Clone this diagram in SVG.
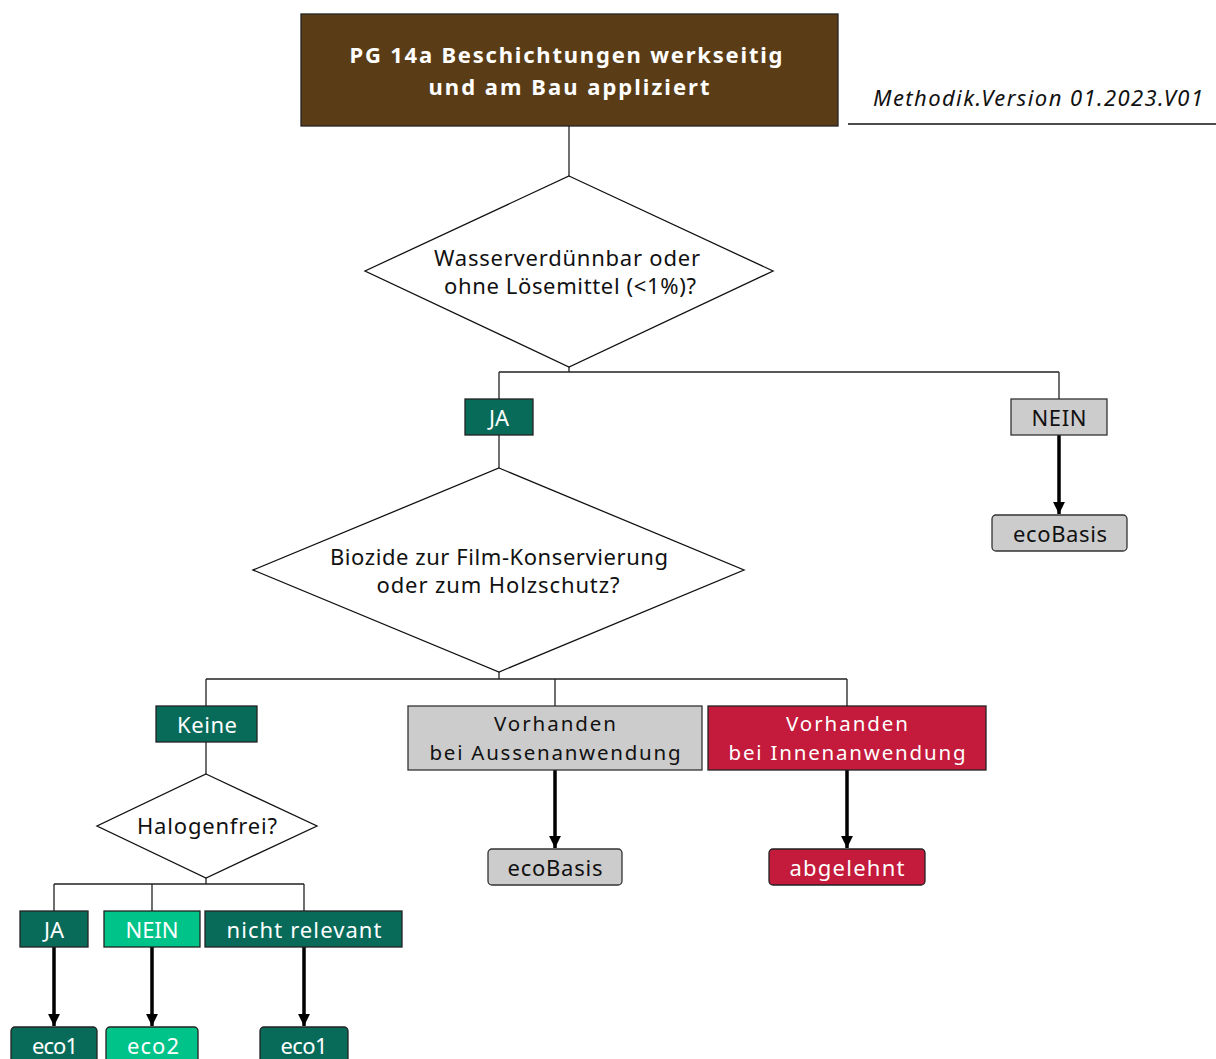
<svg xmlns="http://www.w3.org/2000/svg" width="1216" height="1059" viewBox="0 0 1216 1059">
<style>
text{font-family:"Noto Sans","Liberation Sans",sans-serif;font-size:22px;text-anchor:middle;dominant-baseline:central}
.w{fill:#fff}.k{fill:#111}
.ln{stroke:#222;stroke-width:1.3;fill:none}
.ar{stroke:#000;stroke-width:3.5;fill:none;marker-end:url(#ah)}
.dia{fill:#fff;stroke:#111;stroke-width:1.3}
.teal{fill:#086b5a;stroke:#222;stroke-width:1.3}
.lg{fill:#00c389;stroke:#222;stroke-width:1.3}
.gr{fill:#cccccc;stroke:#333;stroke-width:1.3}
.rd{fill:#c41a3b;stroke:#222;stroke-width:1.3}
.two{font-size:20.5px}
</style>
<defs>
<marker id="ah" viewBox="0 0 10 10" refX="10" refY="5" markerWidth="3.4" markerHeight="3.4" orient="auto" markerUnits="strokeWidth">
<path d="M0,0 L10,5 L0,10 z" fill="#000"/>
</marker>
</defs>
<rect width="1216" height="1059" fill="#fff"/>

<g id="connectors">
<path class="ln" d="M569,126 V176"/>
<path class="ln" d="M569,367 V372 M499,372 H1059 M499,372 V399 M1059,372 V399"/>
<path class="ln" d="M499,435 V468"/>
<path class="ln" d="M499,672 V679 M206,679 H847 M206,679 V706 M555,679 V706 M847,679 V706"/>
<path class="ln" d="M206,742 V774"/>
<path class="ln" d="M206,878 V884 M54,884 H304 M54,884 V911 M152,884 V911 M304,884 V911"/>
<path class="ar" d="M1059,435 V514"/>
<path class="ar" d="M555,770 V848"/>
<path class="ar" d="M847,770 V848"/>
<path class="ar" d="M54,947 V1026"/>
<path class="ar" d="M152,947 V1026"/>
<path class="ar" d="M304,947 V1026"/>
</g>

<g id="title">
<rect x="301" y="14" width="537" height="112" fill="#5a3d17" stroke="#222" stroke-width="1.3"/>
<text x="566" y="54" class="w" font-weight="bold" font-size="28" textLength="433" lengthAdjust="spacing">PG 14a Beschichtungen werkseitig</text>
<text x="569" y="86" class="w" font-weight="bold" font-size="28" textLength="281" lengthAdjust="spacing">und am Bau appliziert</text>
</g>

<g id="version">
<text x="1038" y="97" class="k" font-style="italic" font-size="24" textLength="330" lengthAdjust="spacing">Methodik.Version 01.2023.V01</text>
<path d="M848,124 H1216" stroke="#111" stroke-width="1.5"/>
</g>

<g id="q1">
<polygon class="dia" points="569,176 773,271 569,367 365,271"/>
<text x="567" y="257" class="k" textLength="266" lengthAdjust="spacing">Wasserverdünnbar oder</text>
<text x="570" y="285" class="k" textLength="252" lengthAdjust="spacing">ohne Lösemittel (&lt;1%)?</text>
</g>

<g id="ja1">
<rect x="465" y="399" width="68" height="36" class="teal"/>
<text x="499" y="417" class="w">JA</text>
</g>

<g id="nein1">
<rect x="1011" y="399" width="96" height="36" class="gr"/>
<text x="1059" y="417" class="k" textLength="55" lengthAdjust="spacing">NEIN</text>
</g>

<g id="ecobasis1">
<rect x="992" y="515" width="135" height="36" rx="4" class="gr"/>
<text x="1060" y="533" class="k" textLength="94" lengthAdjust="spacing">ecoBasis</text>
</g>

<g id="q2">
<polygon class="dia" points="499,468 744,570 499,672 253,570"/>
<text x="499" y="556" class="k" textLength="338" lengthAdjust="spacing">Biozide zur Film-Konservierung</text>
<text x="498" y="584" class="k" textLength="243" lengthAdjust="spacing">oder zum Holzschutz?</text>
</g>

<g id="keine">
<rect x="156" y="706" width="101" height="36" class="teal"/>
<text x="207" y="724" class="w" textLength="60" lengthAdjust="spacing">Keine</text>
</g>

<g id="aussen">
<rect x="408" y="706" width="294" height="64" class="gr"/>
<text x="555" y="723" class="k two" textLength="122" lengthAdjust="spacing">Vorhanden</text>
<text x="555" y="752" class="k two" textLength="251" lengthAdjust="spacing">bei Aussenanwendung</text>
</g>

<g id="innen">
<rect x="708" y="706" width="278" height="64" class="rd"/>
<text x="847" y="723" class="w two" textLength="122" lengthAdjust="spacing">Vorhanden</text>
<text x="847" y="752" class="w two" textLength="237" lengthAdjust="spacing">bei Innenanwendung</text>
</g>

<g id="ecobasis2">
<rect x="488" y="849" width="134" height="36" rx="4" class="gr"/>
<text x="555" y="867" class="k" textLength="95" lengthAdjust="spacing">ecoBasis</text>
</g>

<g id="abgelehnt">
<rect x="769" y="849" width="156" height="36" rx="4" class="rd"/>
<text x="847" y="867" class="w" textLength="115" lengthAdjust="spacing">abgelehnt</text>
</g>

<g id="q3">
<polygon class="dia" points="206,774 317,826 206,878 97,826"/>
<text x="207" y="825" class="k" textLength="140" lengthAdjust="spacing">Halogenfrei?</text>
</g>

<g id="ja2">
<rect x="20" y="911" width="68" height="36" class="teal"/>
<text x="54" y="929" class="w">JA</text>
</g>

<g id="nein2">
<rect x="104" y="911" width="96" height="36" class="lg"/>
<text x="152" y="929" class="w" textLength="53" lengthAdjust="spacing">NEIN</text>
</g>

<g id="nichtrelevant">
<rect x="205" y="911" width="197" height="36" class="teal"/>
<text x="304" y="929" class="w" textLength="155" lengthAdjust="spacing">nicht relevant</text>
</g>

<g id="eco1a">
<rect x="11" y="1027" width="86" height="44" rx="4" class="teal"/>
<text x="55" y="1045" class="w" textLength="46" lengthAdjust="spacing">eco1</text>
</g>

<g id="eco2">
<rect x="106" y="1027" width="92" height="44" rx="4" class="lg"/>
<text x="153" y="1045" class="w" textLength="52" lengthAdjust="spacing">eco2</text>
</g>

<g id="eco1b">
<rect x="260" y="1027" width="88" height="44" rx="4" class="teal"/>
<text x="304" y="1045" class="w" textLength="47" lengthAdjust="spacing">eco1</text>
</g>
</svg>
